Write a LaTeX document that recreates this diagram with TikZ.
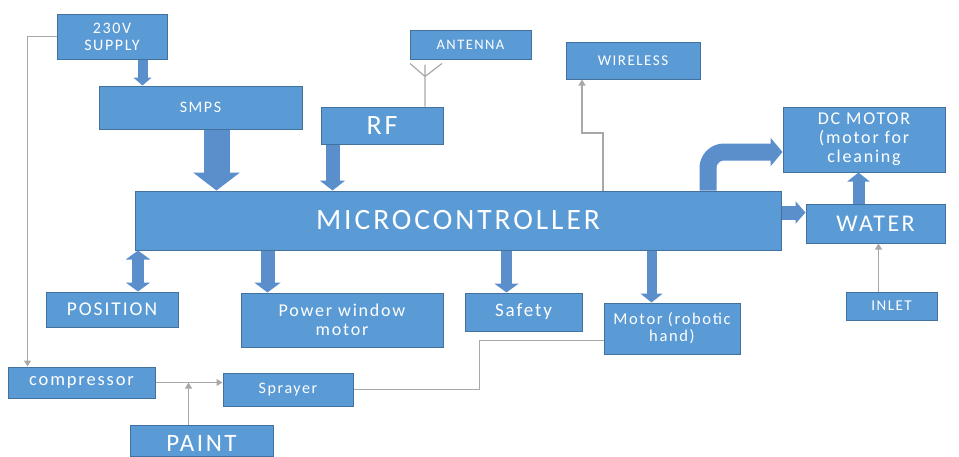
\documentclass[tikz,border=0pt]{standalone}
\usepackage{fontspec}
\setmainfont{Carlito}[LetterSpace=10]
\usetikzlibrary{arrows.meta}
\definecolor{boxfill}{HTML}{5B9BD5}
\definecolor{boxline}{HTML}{41719C}
\definecolor{arrowblue}{HTML}{5A8FCC}
\definecolor{feedgray}{HTML}{A8A8A8}
\newcommand{\fsz}[2]{\fontsize{#1}{#2}\selectfont}
\begin{document}
\begin{tikzpicture}[x=1pt, y=-1pt,
    block/.style={draw=boxline, line width=1pt, fill=boxfill, text=white, align=center, inner sep=0pt},
    fat/.style={draw=arrowblue, line width=#1},
    feed/.style={draw=feedgray, line width=1.2pt},
    feedarrow/.style={feed, -{Triangle[width=7pt, length=6pt]}}
]
    \useasboundingbox (0,0) rectangle (959,456);

    % supply side
    \node [block, minimum width=110pt, minimum height=45pt, font=\fsz{16}{17}] (supply) at (112,36.5) {230V\\SUPPLY};
    \node [block, minimum width=203pt, minimum height=43pt, font=\fsz{16}{18}] (smps) at (200.5,107.5) {SMPS};
    \node [block, minimum width=122pt, minimum height=37pt, font=\fsz{28}{30}] (rf) at (382,125.5) {RF};
    \node [block, minimum width=121pt, minimum height=29pt, font=\fsz{14.5}{16}] (antenna) at (470.5,44.5) {ANTENNA};
    \node [block, minimum width=134pt, minimum height=37pt, font=\fsz{15}{17}] (wireless) at (633,60.5) {WIRELESS};

    \node [block, minimum width=646pt, minimum height=59pt, font=\fsz{29.5}{31}] (mc) at (458,220.5) {MICROCONTROLLER};

    % right side
    \node [block, minimum width=162pt, minimum height=65pt, font=\fsz{18}{19}] (dcmotor) at (864,139.5) {DC MOTOR\\(motor for\\cleaning};
    \node [block, minimum width=139pt, minimum height=39pt, font=\fsz{24}{26}] (water) at (875.5,223.5) {WATER};
    \node [block, minimum width=91pt, minimum height=28pt, font=\fsz{15}{17}] (inlet) at (891.5,306) {INLET};

    % outputs
    \node [block, minimum width=132pt, minimum height=35pt, font=\fsz{19.5}{21}] (position) at (112,309.5) {POSITION};
    \node [block, minimum width=202pt, minimum height=54pt, font=\fsz{18}{19}] (window) at (342,320) {Power window\\motor};
    \node [block, minimum width=117pt, minimum height=38pt, font=\fsz{19}{21}] (safety) at (523.5,312) {Safety};
    \node [block, minimum width=136pt, minimum height=51pt, font=\fsz{16.5}{17}] (robot) at (672,328.5) {Motor (robotic\\hand)};

    % painting
    \node [block, minimum width=147pt, minimum height=31pt, font=\fsz{18.5}{20}] (comp) at (81.5,382.5) {compressor};
    \node [block, minimum width=130pt, minimum height=33pt, font=\fsz{16}{18}] (sprayer) at (288,389.5) {Sprayer};
    \node [block, minimum width=143pt, minimum height=31pt, text height=21pt, text depth=0pt, font=\fsz{25}{27}] (paint) at (201.5,440.5) {PAINT};

    % block arrows
    \draw [fat=10pt, -{Triangle[width=18pt, length=8pt]}] ([xshift=86pt]supply.south west) -- ([xshift=86pt]supply.south west |- smps.north);
    \draw [fat=26pt, -{Triangle[width=46pt, length=18pt]}] ([xshift=118pt]smps.south west) -- ([xshift=118pt]smps.south west |- mc.north);
    \draw [fat=14pt, -{Triangle[width=25pt, length=10pt]}] ([xshift=12pt]rf.south west) -- ([xshift=12pt]rf.south west |- mc.north);
    \draw [fat=12pt, {Triangle[width=24pt, length=9pt]}-{Triangle[width=24pt, length=9pt]}] ([xshift=26pt]position.north |- mc.south) -- ([xshift=26pt]position.north);
    \draw [fat=14pt, -{Triangle[width=26pt, length=10pt]}] ([xshift=27pt]window.north west |- mc.south) -- ([xshift=27pt]window.north west);
    \draw [fat=11pt, -{Triangle[width=24pt, length=9pt]}] ([xshift=42pt]safety.north west |- mc.south) -- ([xshift=42pt]safety.north west);
    \draw [fat=10pt, -{Triangle[width=22pt, length=9pt]}] ([xshift=48pt]robot.north west |- mc.south) -- ([xshift=48pt]robot.north west);
    \draw [fat=14pt, -{Triangle[width=22pt, length=10pt]}] ([yshift=8pt]mc.east) -- ([yshift=8pt]mc.east -| water.west);
    \draw [fat=12pt, -{Triangle[width=22pt, length=9pt]}] ([xshift=-17pt]water.north) -- ([xshift=-17pt]water.north |- dcmotor.south);
    \coordinate (bend) at (708,152);
    \draw [fat=17pt, rounded corners=16pt, -{Triangle[width=28pt, length=12pt]}] (bend |- mc.north) -- (bend) -- (bend -| dcmotor.west);

    % thin connectors
    \draw [feedarrow] (supply.west) -| ([xshift=20pt]comp.north west);
    \draw [feedarrow] (comp.east) -- (comp.east -| sprayer.west);
    \draw [feedarrow] ([xshift=-13pt]paint.north) -- ([xshift=-13pt]paint.north |- comp.east);
    \draw [feed] (sprayer.east) -- ++(126,0) |- ([yshift=14pt]robot.south west);
    \coordinate (wl) at (603,133);
    \draw [feedarrow] (wl |- mc.north) -- (wl) -| ([xshift=-51pt]wireless.south);
    \draw [feedarrow] ([xshift=-13pt]inlet.north) -- ([xshift=-13pt]inlet.north |- water.south);

    % antenna symbol
    \draw [feed] ([xshift=43pt]rf.north) -- ++(0,-42) ++(0,12) -- ++(-15,-13) ++(15,13) -- ++(17,-13);
\end{tikzpicture}
\end{document}
